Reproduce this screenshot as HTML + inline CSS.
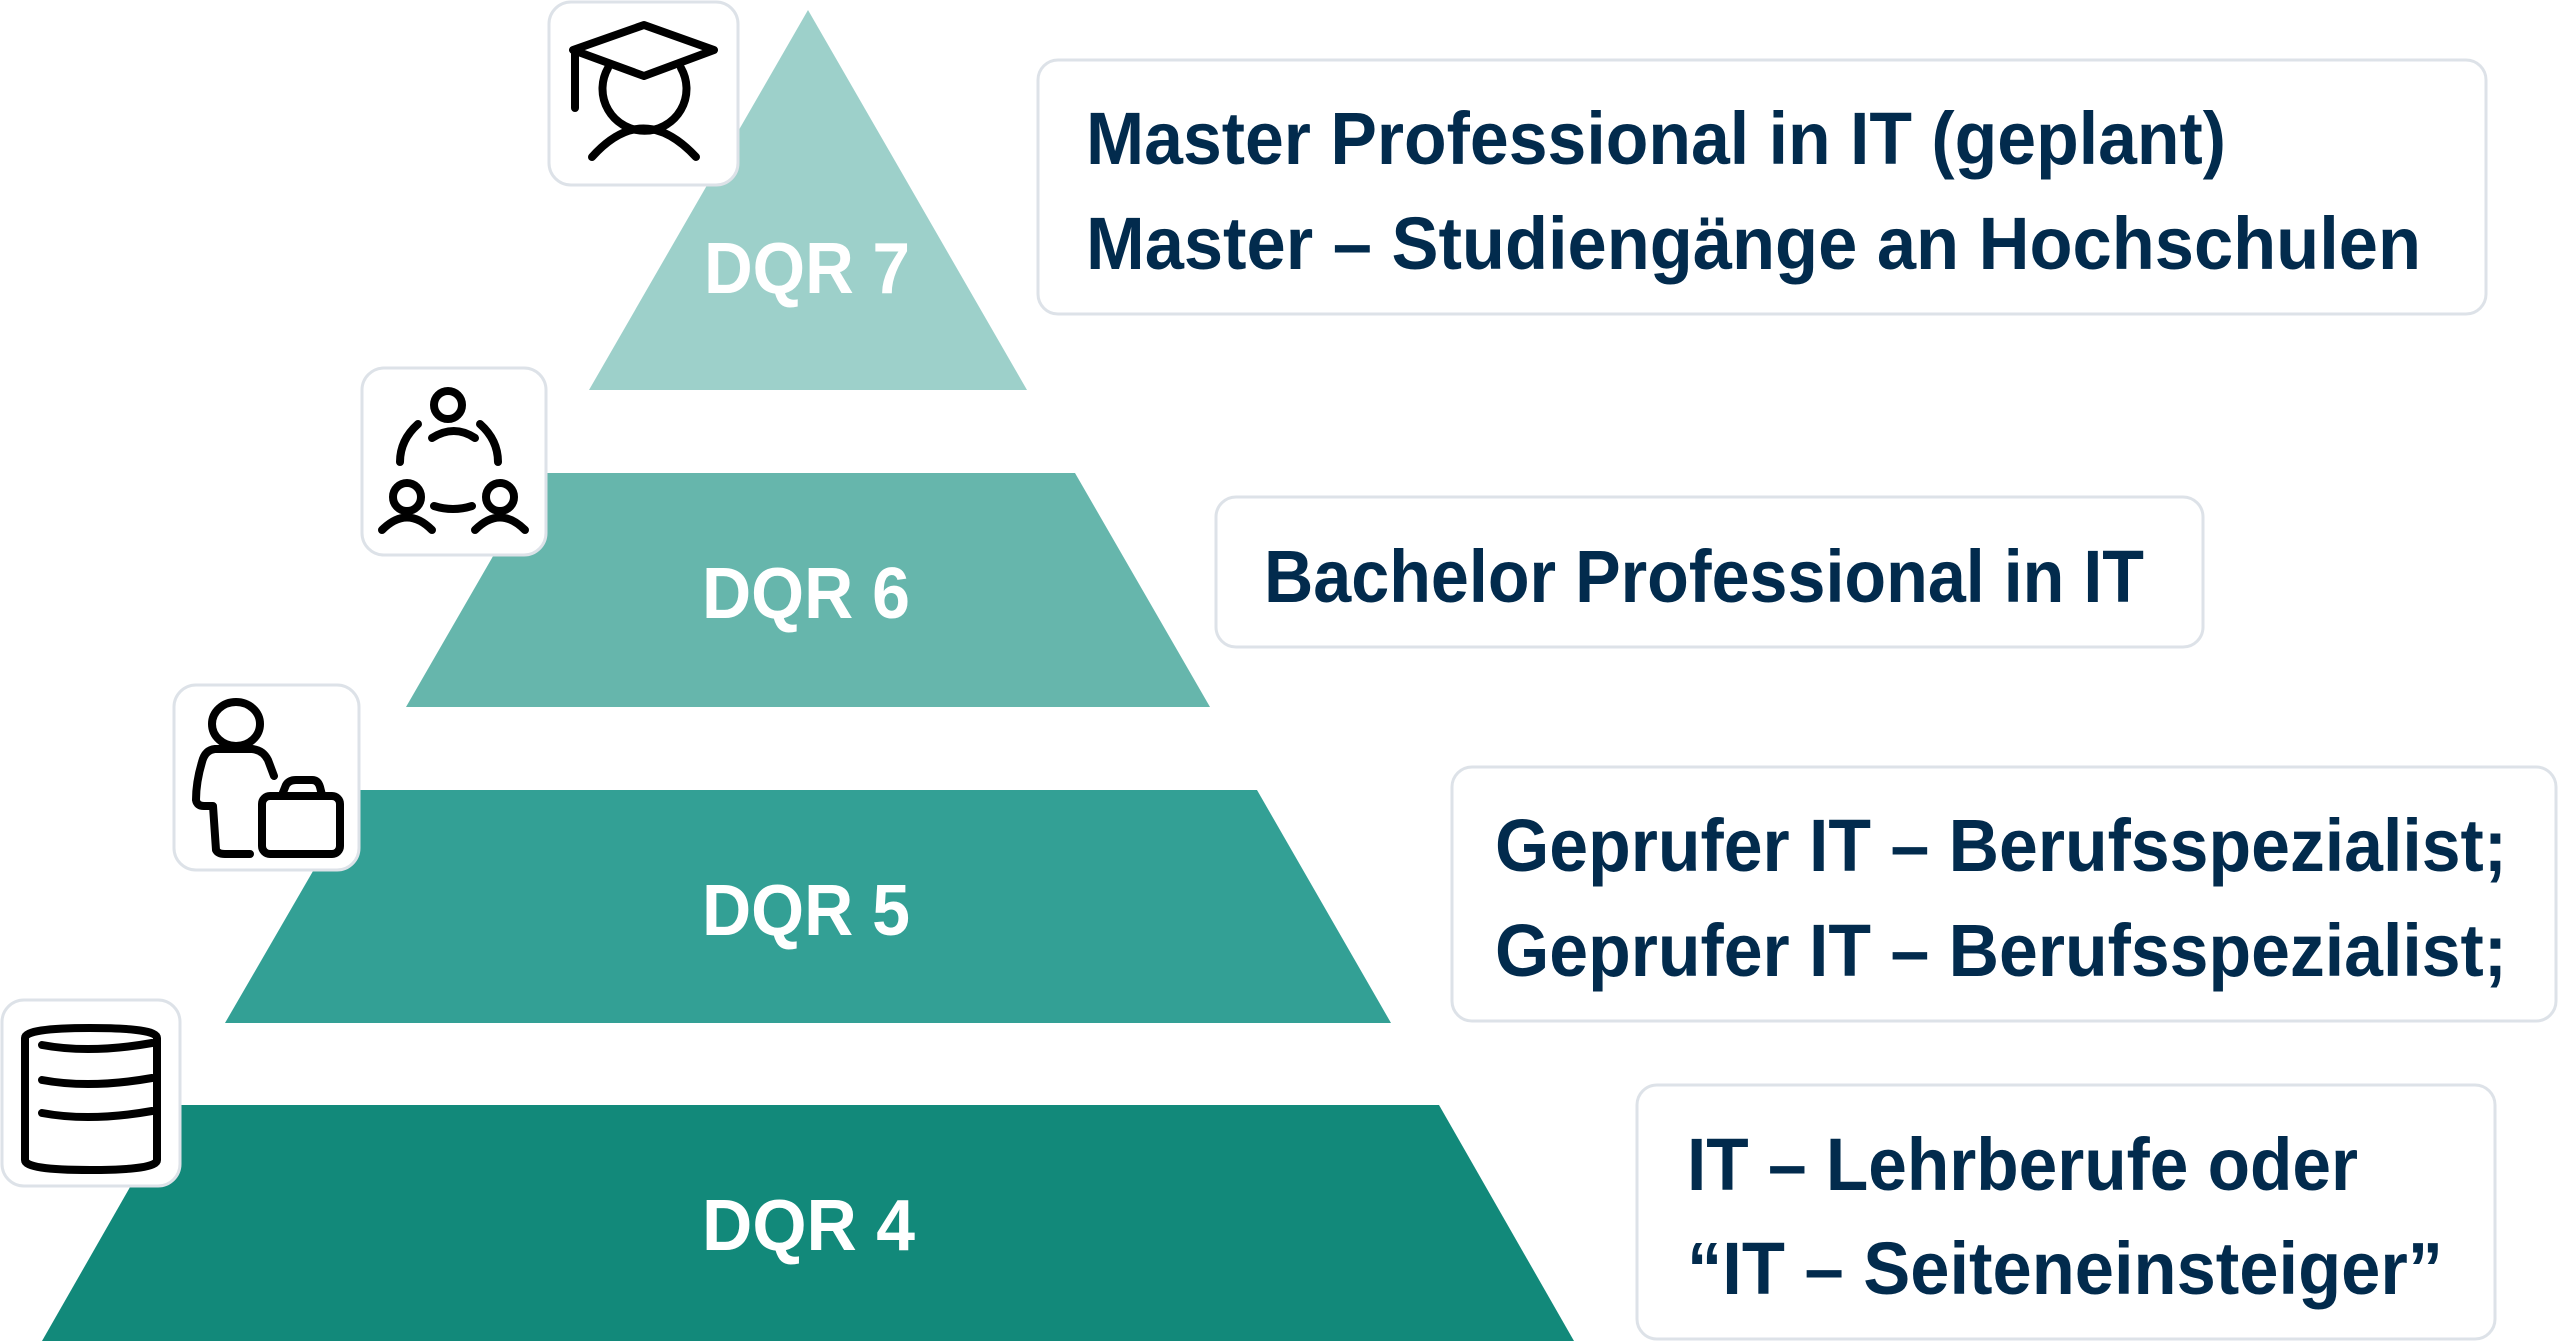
<!DOCTYPE html>
<html><head><meta charset="utf-8"><style>
html,body{margin:0;padding:0;background:#fff;width:2560px;height:1341px;overflow:hidden}
svg{display:block}
.d{font-family:"Liberation Sans",sans-serif;font-weight:bold;font-size:72px;fill:#fff}
.t{font-family:"Liberation Sans",sans-serif;font-weight:bold;font-size:74px;fill:#022b4d}
.ic{fill:none;stroke:#000;stroke-width:8;stroke-linecap:round;stroke-linejoin:round}
.bx{fill:#fff;stroke:#dde2e8;stroke-width:3}
</style></head><body>
<svg width="2560" height="1341" viewBox="0 0 2560 1341" xmlns="http://www.w3.org/2000/svg">
<polygon points="808,10 1027,390 589,390" fill="#9dd0ca"/>
<polygon points="541,473 1075,473 1210,707 406,707" fill="#66b6ac"/>
<polygon points="360,790 1257,790 1391,1023 225,1023" fill="#33a095"/>
<polygon points="177,1105 1439,1105 1574,1341 42,1341" fill="#12897a"/>
<text class="d" x="704" y="293" textLength="206" lengthAdjust="spacingAndGlyphs">DQR 7</text>
<text class="d" x="702" y="618" textLength="208" lengthAdjust="spacingAndGlyphs">DQR 6</text>
<text class="d" x="702" y="935" textLength="208" lengthAdjust="spacingAndGlyphs">DQR 5</text>
<text class="d" x="702" y="1250" textLength="213" lengthAdjust="spacingAndGlyphs">DQR 4</text>

<rect class="bx" x="549" y="2" width="189" height="183" rx="22"/>
<path class="ic" d="M573,50 L644,25 L714,50 L644,76 Z M575,52 L575,108"/>
<path class="ic" d="M608,68 A42,42 0 1 0 681,68"/>
<path class="ic" d="M592,157 Q643,100 696,157"/>

<rect class="bx" x="362" y="368" width="184" height="187" rx="22"/>
<circle class="ic" cx="448" cy="405" r="14"/>
<path class="ic" d="M432,438 Q454,424 475,438"/>
<path class="ic" d="M418,424 Q400,440 400,462 M480,424 Q498,440 498,462"/>
<circle class="ic" cx="407" cy="497" r="14"/>
<path class="ic" d="M382,530 Q407,505 432,530"/>
<circle class="ic" cx="500" cy="497" r="14"/>
<path class="ic" d="M475,530 Q500,505 525,530"/>
<path class="ic" d="M434,506 Q453,512 472,506"/>

<rect class="bx" x="174" y="685" width="185" height="185" rx="22"/>
<ellipse class="ic" cx="236" cy="724" rx="24" ry="22"/>
<path class="ic" d="M274,776 L268,760 Q263,750 252,749 L215,749 Q205,750 202,762 Q196,782 196,800 Q197,806 204,806 L213,806 L216,850 Q218,854 225,854 L250,854"/>
<rect class="ic" x="262" y="796" width="78" height="58" rx="8"/>
<path class="ic" d="M282,795 L286,785 Q289,780 296,780 L312,780 Q318,780 320,787 L322,795"/>

<rect class="bx" x="2" y="1000" width="178" height="186" rx="22"/>
<path class="ic" d="M25,1038 Q25,1028 90,1028 Q157,1028 157,1038 L157,1160 Q157,1170 90,1170 Q25,1170 25,1160 Z"/>
<path class="ic" d="M42,1045 Q90,1054 152,1043 M42,1080 Q90,1089 152,1078 M42,1113 Q90,1122 152,1111"/>

<rect class="bx" x="1038" y="60" width="1448" height="254" rx="20"/>
<text class="t" x="1086" y="164" textLength="1140" lengthAdjust="spacingAndGlyphs">Master Professional in IT (geplant)</text>
<text class="t" x="1086" y="269" textLength="1335" lengthAdjust="spacingAndGlyphs">Master – Studiengänge an Hochschulen</text>

<rect class="bx" x="1216" y="497" width="987" height="150" rx="20"/>
<text class="t" x="1264" y="602" textLength="880" lengthAdjust="spacingAndGlyphs">Bachelor Professional in IT</text>

<rect class="bx" x="1452" y="767" width="1104" height="254" rx="20"/>
<text class="t" x="1495" y="871" textLength="1012" lengthAdjust="spacingAndGlyphs">Geprufer IT – Berufsspezialist;</text>
<text class="t" x="1495" y="976" textLength="1012" lengthAdjust="spacingAndGlyphs">Geprufer IT – Berufsspezialist;</text>

<rect class="bx" x="1637" y="1085" width="858" height="254" rx="20"/>
<text class="t" x="1687" y="1190" textLength="671" lengthAdjust="spacingAndGlyphs">IT – Lehrberufe oder</text>
<text class="t" x="1687" y="1294" textLength="756" lengthAdjust="spacingAndGlyphs">“IT – Seiteneinsteiger”</text>
</svg>
</body></html>
